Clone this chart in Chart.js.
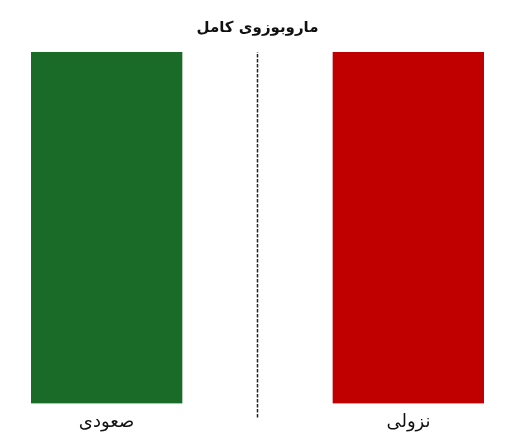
<!DOCTYPE html>
<html>
<head>
<meta charset="utf-8">
<script src="https://cdn.jsdelivr.net/npm/chart.js@4"></script>
<style>
  html, body { margin: 0; padding: 0; background: #fff; }
  #wrap { width: 521px; height: 447px; }
</style>
</head>
<body>
<div id="wrap"><canvas id="marubozuChart"></canvas></div>
<script>
// candle bodies (no wicks = full marubozu)
const categories = ["صعودی", "نزولی"];
const positions = [0, 1];
const openValues = [0, 1];
const closeValues = [1, 0];
const bodyColors = ["#1b6b28", "#c00000"];
const dividerX = 0.5;
const dividerRange = [-0.04, 1];

(() => {
  const canvas = document.getElementById("marubozuChart");
  if (typeof Chart === "undefined") {
    console.warn("Chart.js not loaded");
    return;
  }

  const bodies = positions.map((x, i) => ({ x: x, y: [openValues[i], closeValues[i]] }));
  const divider = dividerRange.map((y) => ({ x: dividerX, y: y }));

  new Chart(canvas, {
    data: {
      datasets: [
        {
          type: "bar",
          data: bodies,
          backgroundColor: bodyColors,
          borderWidth: 0,
          barThickness: 151
        },
        {
          type: "line",
          data: divider,
          borderColor: "#222",
          borderWidth: 1.5,
          borderDash: [3.5, 1.5],
          pointRadius: 0,
          clip: false
        }
      ]
    },
    options: {
      responsive: true,
      maintainAspectRatio: false,
      animation: false,
      layout: { padding: { left: 31, right: 37, bottom: 6, top: 0 } },
      plugins: {
        legend: { display: false },
        tooltip: { enabled: false },
        title: {
          display: true,
          text: "ماروبوزوی کامل",
          color: "#111",
          font: { family: "DejaVu Sans", size: 15, weight: "bold" },
          padding: { top: 19, bottom: 15 }
        }
      },
      scales: {
        x: {
          type: "linear",
          min: -0.25,
          max: 1.25,
          offset: false,
          grid: { display: false, drawTicks: false, offset: false },
          border: { display: false },
          afterBuildTicks: (axis) => {
            axis.ticks = positions.map((v) => ({ value: v }));
          },
          ticks: {
            padding: 8,
            color: "#111",
            font: { family: "DejaVu Sans", size: 18 },
            callback: (value) => categories[positions.indexOf(value)] || ""
          }
        },
        y: {
          min: 0,
          max: 1,
          display: false
        }
      }
    }
  });
})();
</script>
</body>
</html>
